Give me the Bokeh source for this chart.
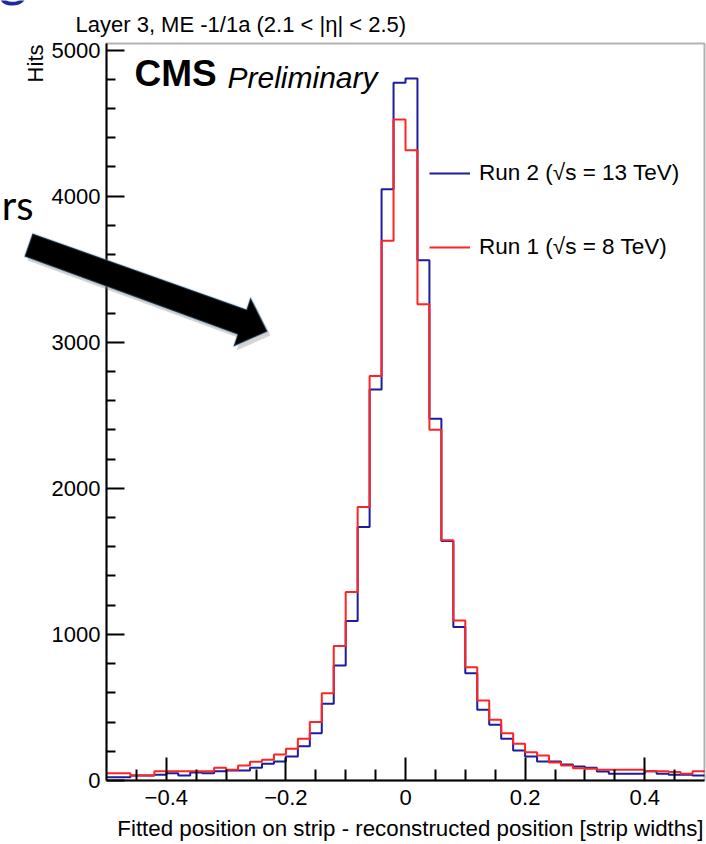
import math
from bokeh.plotting import figure
from bokeh.models import (Range1d, FixedTicker, Label, Legend, LegendItem,
                          PolyAnnotation, LinearAxis, BoxAnnotation)
from bokeh.embed import file_html
from bokeh.resources import INLINE

# ---------------- data ----------------
bin_edges = [round(-0.5 + 0.02 * i, 2) for i in range(51)]

run2_hits = [23, 23, 34, 34, 40, 50, 34, 55, 50, 64,
             68, 68, 87, 114, 130, 164, 235, 324, 525, 788,
             1091, 1735, 2676, 4048, 4776, 4806, 3562, 2477, 1640, 1050,
             735, 484, 381, 285, 205, 164, 130, 130, 110, 96,
             87, 62, 46, 46, 46, 64, 46, 40, 40, 34]

run1_hits = [50, 50, 34, 34, 64, 64, 64, 64, 64, 87,
             73, 103, 128, 142, 178, 217, 285, 400, 598, 920,
             1290, 1872, 2769, 3694, 4525, 4315, 3260, 2401, 1644, 1096,
             776, 548, 416, 324, 251, 194, 171, 124, 103, 84,
             80, 73, 73, 73, 73, 64, 64, 58, 46, 64]

x_major = [-0.4, -0.2, 0.0, 0.2, 0.4]
x_major_labels = ["\u22120.4", "\u22120.2", "0", "0.2", "0.4"]
x_minor = [-0.45, -0.35, -0.3, -0.25, -0.15, -0.1, -0.05,
           0.05, 0.1, 0.15, 0.25, 0.3, 0.35, 0.45]
y_major = [0, 1000, 2000, 3000, 4000, 5000]
y_minor = [v for v in range(200, 5000, 200) if v % 1000 != 0]

series_labels = ["Run 2 (\u221as = 13 TeV)", "Run 1 (\u221as = 8 TeV)"]
title_text = "Layer 3, ME -1/1a (2.1 < |\u03b7| < 2.5)"
x_title = "Fitted position on strip - reconstructed position [strip widths]"
y_title = "Hits"

X0, X1 = -0.5, 0.5
Y0, Y1 = 0, 5045

# histogram frame in picture pixels; the bokeh frame covers the whole canvas
# so that the slide decorations around the plot can be drawn too
FL, FR, FT, FB = 106, 704, 43, 780
W, H = 706, 844
BASE_SHIFT = 0.38  # label anchor sits this many em above the text baseline


def dx(px):
    return X0 + (px - FL) / (FR - FL) * (X1 - X0)


def dy(py):
    return Y0 + (FB - py) / (FB - FT) * (Y1 - Y0)


def base(py, fs):
    """anchor y (data) for a text whose baseline should be at picture y py"""
    return dy(py - BASE_SHIFT * fs)


FONT = "Liberation Sans"
FS = 22
BLUE = "#1c1c9e"
RED = "#ff2424"

p = figure(width=W, height=H,
           x_range=Range1d(dx(0), dx(W)),
           y_range=Range1d(dy(H), dy(0)),
           output_backend="svg", toolbar_location=None,
           x_axis_location=None, y_axis_location=None,
           min_border=0, min_border_left=0, min_border_right=0,
           min_border_top=0, min_border_bottom=0)
p.grid.visible = False
p.outline_line_color = None
p.background_fill_color = "white"
p.border_fill_color = "white"

xa = LinearAxis(fixed_location=Y0, bounds=(X0, X1),
                ticker=FixedTicker(ticks=x_major, minor_ticks=x_minor))
xa.major_label_overrides = {t: l for t, l in zip(x_major, x_major_labels)}
xa.major_tick_in = 23
xa.major_tick_out = 0
xa.minor_tick_in = 11
xa.minor_tick_out = 0
xa.major_label_standoff = 9

ya = LinearAxis(fixed_location=X0, bounds=(Y0, Y1),
                ticker=FixedTicker(ticks=y_major, minor_ticks=y_minor))
ya.major_tick_in = 18
ya.major_tick_out = 0
ya.minor_tick_in = 9
ya.minor_tick_out = 0
ya.major_label_standoff = 6

for ax in (xa, ya):
    ax.axis_line_width = 2
    ax.major_tick_line_width = 2
    ax.minor_tick_line_width = 2
    ax.major_label_text_font = FONT
    ax.major_label_text_font_size = f"{FS}px"
    ax.major_label_text_color = "black"

p.add_layout(xa, "below")
p.add_layout(ya, "left")

# histogram frame (top and right edges)
p.add_layout(BoxAnnotation(left=X0, right=X1, bottom=Y0, top=Y1,
                           fill_alpha=0, line_color="black", line_width=2))

r2 = p.step(x=bin_edges, y=run2_hits + [run2_hits[-1]], mode="after",
            line_color=BLUE, line_width=2)
r1 = p.step(x=bin_edges, y=run1_hits + [run1_hits[-1]], mode="after",
            line_color=RED, line_width=2)

legend = Legend(items=[LegendItem(label=series_labels[0], renderers=[r2]),
                       LegendItem(label=series_labels[1], renderers=[r1])],
                location=(429, H - 262),
                glyph_width=41, glyph_height=30,
                label_height=30, spacing=44, label_standoff=9,
                padding=0, margin=0, border_line_color=None,
                background_fill_alpha=0,
                label_text_font=FONT, label_text_font_size="22.5px",
                label_text_color="black")
p.add_layout(legend)

# texts
p.add_layout(Label(x=dx(75), y=base(32, FS), text=title_text,
                   text_font=FONT, text_font_size=f"{FS}px", text_color="black",
                   text_baseline="alphabetic"))
p.add_layout(Label(x=dx(43 - BASE_SHIFT * FS), y=dy(44), text=y_title,
                   angle=math.pi / 2,
                   text_align="right", text_baseline="alphabetic",
                   text_font=FONT, text_font_size=f"{FS}px", text_color="black"))
p.add_layout(Label(x=dx(703), y=base(836, FS), text=x_title, text_align="right",
                   text_baseline="alphabetic", text_color="black",
                   text_font=FONT, text_font_size="22.3px"))
p.add_layout(Label(x=dx(134), y=base(87, 37), text="CMS", text_color="black",
                   text_font=FONT, text_font_style="bold",
                   text_font_size="37px", text_baseline="alphabetic"))
p.add_layout(Label(x=dx(227), y=base(88, 30), text="Preliminary",
                   text_color="black",
                   text_font=FONT, text_font_style="italic",
                   text_font_size="30px", text_baseline="alphabetic"))

# slide decorations (cropped slide around the plot)
p.add_layout(Label(x=dx(33), y=base(220, 40), text="rs", text_align="right",
                   text_baseline="alphabetic", text_font="Lato",
                   text_font_size="40px", text_color="black"))
p.add_layout(Label(x=dx(-2), y=base(-6, 56), text="g", text_align="left",
                   text_baseline="alphabetic", text_font="Lato",
                   text_font_size="56px", text_color="#1b2aa0"))

arrow_px = [(32, 233), (246, 309), (250, 297), (267, 331),
            (233, 346), (237, 334), (24, 256)]
p.add_layout(PolyAnnotation(xs=[dx(a + 3) for a, b in arrow_px],
                            ys=[dy(b + 4) for a, b in arrow_px],
                            fill_color="#888888", fill_alpha=0.35,
                            line_color=None))
p.add_layout(PolyAnnotation(xs=[dx(a) for a, b in arrow_px],
                            ys=[dy(b) for a, b in arrow_px],
                            fill_color="black", fill_alpha=1.0,
                            line_color="#6fa8dc", line_width=2))

open("out.html", "w").write(file_html(p, INLINE))
